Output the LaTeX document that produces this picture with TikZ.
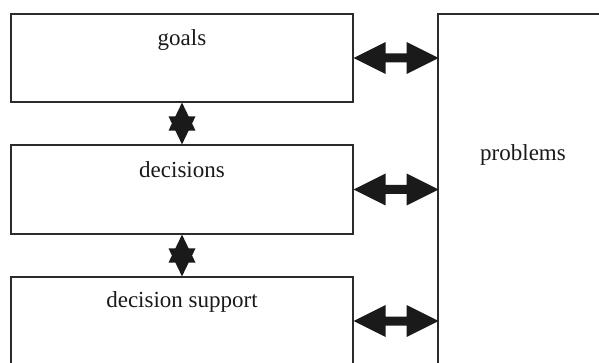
\documentclass[tikz,border=0pt]{standalone}
\usepackage{fontspec}
\setmainfont{Liberation Serif}
\definecolor{edgec}{HTML}{2B2B2B}
\definecolor{arrc}{HTML}{1A1A1A}
\begin{document}
\begin{tikzpicture}[x=1pt,y=-1pt,
  box/.style={draw=edgec, line width=1.2pt, inner sep=0pt, minimum width=342pt, minimum height=88pt},
  lbl/.style={font=\fontsize{23}{27}\selectfont, inner sep=0pt, text=black!90},
  arrfill/.style={fill=arrc}]
\useasboundingbox (0,0) rectangle (599,363);
\node[box] (goals) at (182,58) {};
\node[box, minimum height=89pt] (decisions) at (182,189.5) {};
\node[box] (support) at (182,321) {};
\node[box, minimum width=172pt, minimum height=352pt] (problems) at (524,190) {};
\node[lbl] (tgoals) at (182,40) {goals};
\node[lbl] (tdecisions) at (182,170) {decisions};
\node[lbl] (tsupport) at (182,302) {decision support};
\node[lbl] (tproblems) at (523,155) {problems};
% horizontal double arrows
\foreach \n in {goals,decisions,support}{
  \fill[arrfill] (\n.east) -- ++(32,-16) -- ++(0,11.5) -- ++(21,0) -- ++(0,-11.5)
    -- ++(32,16) -- ++(-32,16) -- ++(0,-11.5) -- ++(-21,0) -- ++(0,11.5) -- cycle;
}
% vertical double arrows
\fill[arrfill] (goals.south) -- ++(13.5,28) -- ++(-27,0) -- cycle;
\fill[arrfill] (decisions.north) -- ++(13.5,-28) -- ++(-27,0) -- cycle;
\fill[arrfill] (decisions.south) -- ++(13.5,28) -- ++(-27,0) -- cycle;
\fill[arrfill] (support.north) -- ++(13.5,-28) -- ++(-27,0) -- cycle;
\end{tikzpicture}
\end{document}
